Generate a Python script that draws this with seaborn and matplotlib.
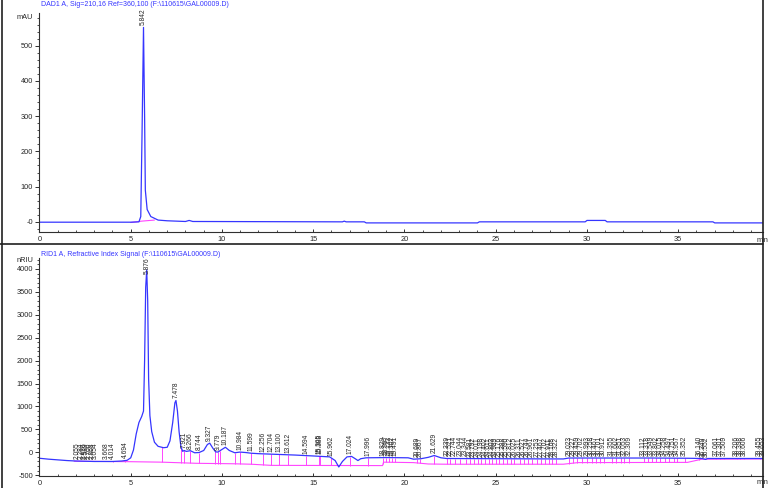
import numpy as np
import pandas as pd
import seaborn as sns
import matplotlib.pyplot as plt
from matplotlib.lines import Line2D
from matplotlib.transforms import blended_transform_factory

#%% datos leidos del cromatograma

# DAD1 A (mAU)
dad_t = [0.0, 5.0, 5.45, 5.55, 5.62, 5.70, 5.76, 5.80, 5.9, 6.1, 6.5, 7.0, 8.0, 8.2, 8.4,
         16.6, 16.7, 16.8, 17.8, 17.9, 24.0, 24.1, 29.9, 30.0, 31.0, 31.1, 36.9, 37.0, 39.64]
dad_v = [-1, -1, 0, 15, 250, 552, 300, 90, 35, 15, 5, 3, 1, 4, 1,
         0, 2, 0, 0, -3, -3, 0, 0, 4, 4, 0, 0, -3, -3]
dad_base_t = [5.0, 5.6, 6.3]
dad_base_v = [-2, 2, 5]
dad_picos = [5.70]
dad_etiquetas = ['5.842']

# RID1 A (nRIU)
rid_t = [0.0, 0.5, 1.0, 1.5, 2.0, 3.0, 4.0, 4.5, 4.8, 5.0, 5.15, 5.3, 5.45, 5.6, 5.7, 5.76, 5.82, 5.876,
         5.93, 5.98, 6.05, 6.15, 6.3, 6.5, 6.8, 7.0, 7.15, 7.3, 7.42, 7.478, 7.56, 7.65, 7.75, 7.85,
         7.921, 8.05, 8.266, 8.5, 8.744, 9.0, 9.2, 9.327, 9.5, 9.65, 9.779, 9.95, 10.187, 10.4, 10.7,
         10.984, 11.3, 11.599, 12.0, 13.0, 14.0, 15.0, 15.9, 16.2, 16.4, 16.6, 16.85, 17.1, 17.3,
         17.45, 17.6, 17.9, 19.0, 20.2, 20.5, 20.9, 21.3, 21.629, 22.0, 22.3, 25.0, 28.7, 29.0,
         33.5, 35.5, 36.3, 36.5, 36.6, 39.64]
rid_v = [-130, -150, -165, -180, -190, -200, -200, -190, -175, -120, 50, 400, 650, 780, 900, 2000, 3600, 3980,
         3300, 1600, 800, 450, 220, 130, 100, 110, 250, 650, 1080, 1130, 900, 450, 120, 20,
         40, 20, 35, -10, -5, 40, 170, 200, 90, 10, 5, 50, 110, 40, -10,
         5, -5, -20, -30, -45, -60, -80, -100, -180, -320, -200, -100, -90, -140,
         -180, -140, -120, -115, -120, -150, -140, -110, -70, -120, -135, -140, -145, -125,
         -125, -130, -135, -155, -135, -135]
rid_base_t = [1.9, 5.0, 6.7, 8.6, 10.6, 11.6, 12.7, 18.8, 18.85, 20.5, 21.3, 22.3, 28.7, 29.5, 35.5, 36.3, 39.64]
rid_base_v = [-195, -205, -215, -240, -250, -260, -285, -290, -215, -225, -255, -260, -260, -225, -220, -150, -145]

rid_picos = [2.055, 2.284, 2.426, 2.539, 2.700, 2.868, 3.054, 3.668, 4.014, 4.694, 5.876, 7.478, 7.921,
             8.266, 8.744, 9.327, 9.779, 10.187, 10.984, 11.599, 12.256, 12.704, 13.100, 13.612, 14.594,
             15.305, 15.388, 15.962, 17.024, 17.996, 18.829, 18.997, 19.133, 19.302, 19.491, 20.689,
             20.867, 21.629, 22.339, 22.521, 22.744, 23.044, 23.344, 23.581, 23.792, 24.011, 24.198,
             24.402, 24.611, 24.803, 24.989, 25.176, 25.388, 25.590, 25.812, 26.025, 26.311, 26.527,
             26.744, 26.961, 27.253, 27.467, 27.702, 27.911, 28.108, 28.322, 29.023, 29.227, 29.459,
             29.702, 29.993, 30.258, 30.467, 30.701, 30.912, 31.355, 31.602, 31.851, 32.053, 32.309,
             33.112, 33.318, 33.549, 33.802, 34.015, 34.258, 34.497, 34.751, 34.957, 35.352, 36.140,
             36.349, 36.552, 37.061, 37.301, 37.509, 38.206, 38.398, 38.606, 39.455, 39.653, 39.858]
rid_valles = [6.7, 7.75, 9.6, 9.9, 10.7]
rid_grandes = [5.876, 7.478, 9.327, 10.187]

#%% estilo

sns.set_style('ticks')
plt.rcParams['font.family'] = ['Liberation Sans', 'DejaVu Sans']

azul = '#3535ff'
rosa = '#ff45ff'
gris = '#303030'
fs = 5.3

fig = plt.figure(figsize=(7.68, 4.88), dpi=100)
ax1 = fig.add_axes([0.0514, 0.5252, 0.942, 0.4482])
ax2 = fig.add_axes([0.0514, 0.0246, 0.942, 0.4461])


def estilo(ax, ylo, yhi, paso, paso_min, unidad, y_unidad):
    ax.set_xlim(0, 39.64)
    ax.set_ylim(ylo, yhi)
    for s in ['top', 'right']:
        ax.spines[s].set_visible(False)
    for s in ['left', 'bottom']:
        ax.spines[s].set_color(gris)
        ax.spines[s].set_linewidth(0.8)
    ax.set_xticks(range(0, 40, 5))
    ax.set_xticks(range(0, 40), minor=True)
    ax.set_yticks(np.arange(np.ceil(ylo / paso) * paso, yhi, paso))
    ax.set_yticks(np.arange(np.ceil(ylo / paso_min) * paso_min, yhi, paso_min), minor=True)
    ax.tick_params(axis='x', which='major', direction='in', length=2.5, width=0.7, color=gris,
                   labelsize=fs, pad=3)
    ax.tick_params(axis='x', which='minor', direction='in', length=1.5, width=0.6, color=gris)
    ax.tick_params(axis='y', which='major', direction='out', length=3, width=0.7, color=gris,
                   labelsize=fs, pad=1.5)
    ax.tick_params(axis='y', which='minor', direction='out', length=1.6, width=0.6, color=gris)
    ax.yaxis.set_major_formatter(plt.FuncFormatter(lambda v, p: f'{v:.0f}'))
    ax.set_xlabel('')
    ax.set_ylabel('')
    tr = blended_transform_factory(ax.transAxes, ax.transData)
    ax.text(-0.009, y_unidad, unidad, transform=tr, ha='right', va='center', fontsize=fs)


#%% panel DAD

sns.lineplot(x=dad_base_t, y=dad_base_v, ax=ax1, color=rosa, lw=0.8, sort=False, estimator=None)
sns.lineplot(x=dad_t, y=dad_v, ax=ax1, color=azul, lw=0.9, sort=False, estimator=None)
for p, et in zip(dad_picos, dad_etiquetas):
    ax1.annotate(et, (p, np.interp(p, dad_t, dad_v)), xytext=(0, 1.5),
                 textcoords='offset points', rotation=90, ha='center', va='bottom', fontsize=4.8)
estilo(ax1, -28, 593, 100, 20, 'mAU', 581)

#%% panel RID

sns.lineplot(x=rid_base_t, y=rid_base_v, ax=ax2, color=rosa, lw=0.8, sort=False, estimator=None)
caidas = [p for p in rid_picos if p not in rid_grandes] + rid_valles
ax2.vlines(caidas, np.interp(caidas, rid_base_t, rid_base_v), np.interp(caidas, rid_t, rid_v),
           color=rosa, lw=0.7)
sns.lineplot(x=rid_t, y=rid_v, ax=ax2, color=azul, lw=0.9, sort=False, estimator=None)
for p in rid_picos:
    dy = -3 if p == 5.876 else 1.5
    ax2.annotate(f'{p:.3f}', (p, np.interp(p, rid_t, rid_v)), xytext=(0, dy),
                 textcoords='offset points', rotation=90, ha='center', va='bottom', fontsize=4.8)
estilo(ax2, -517, 4233, 500, 100, 'nRIU', 4185)

#%% textos y marco

fig.text(41 / 768, 1 - 5 / 488, 'DAD1 A, Sig=210,16 Ref=360,100 (F:\\110615\\GAL00009.D)',
         color=azul, fontsize=5.0, va='center')
fig.text(41 / 768, 1 - 255 / 488, 'RID1 A, Refractive Index Signal (F:\\110615\\GAL00009.D)',
         color=azul, fontsize=5.0, va='center')
fig.text(757 / 768, 1 - 240 / 488, 'min', fontsize=fs, va='center')
fig.text(757 / 768, 1 - 483 / 488, 'min', fontsize=fs, va='center')

for xs, ys in [([1.5 / 768, 1.5 / 768], [0, 1]), ([763 / 768, 763 / 768], [0, 1]), ([0, 763 / 768], [0.5, 0.5])]:
    fig.add_artist(Line2D(xs, ys, transform=fig.transFigure, color='#202020', lw=1.2))

fig.savefig('out.png', dpi=100)
